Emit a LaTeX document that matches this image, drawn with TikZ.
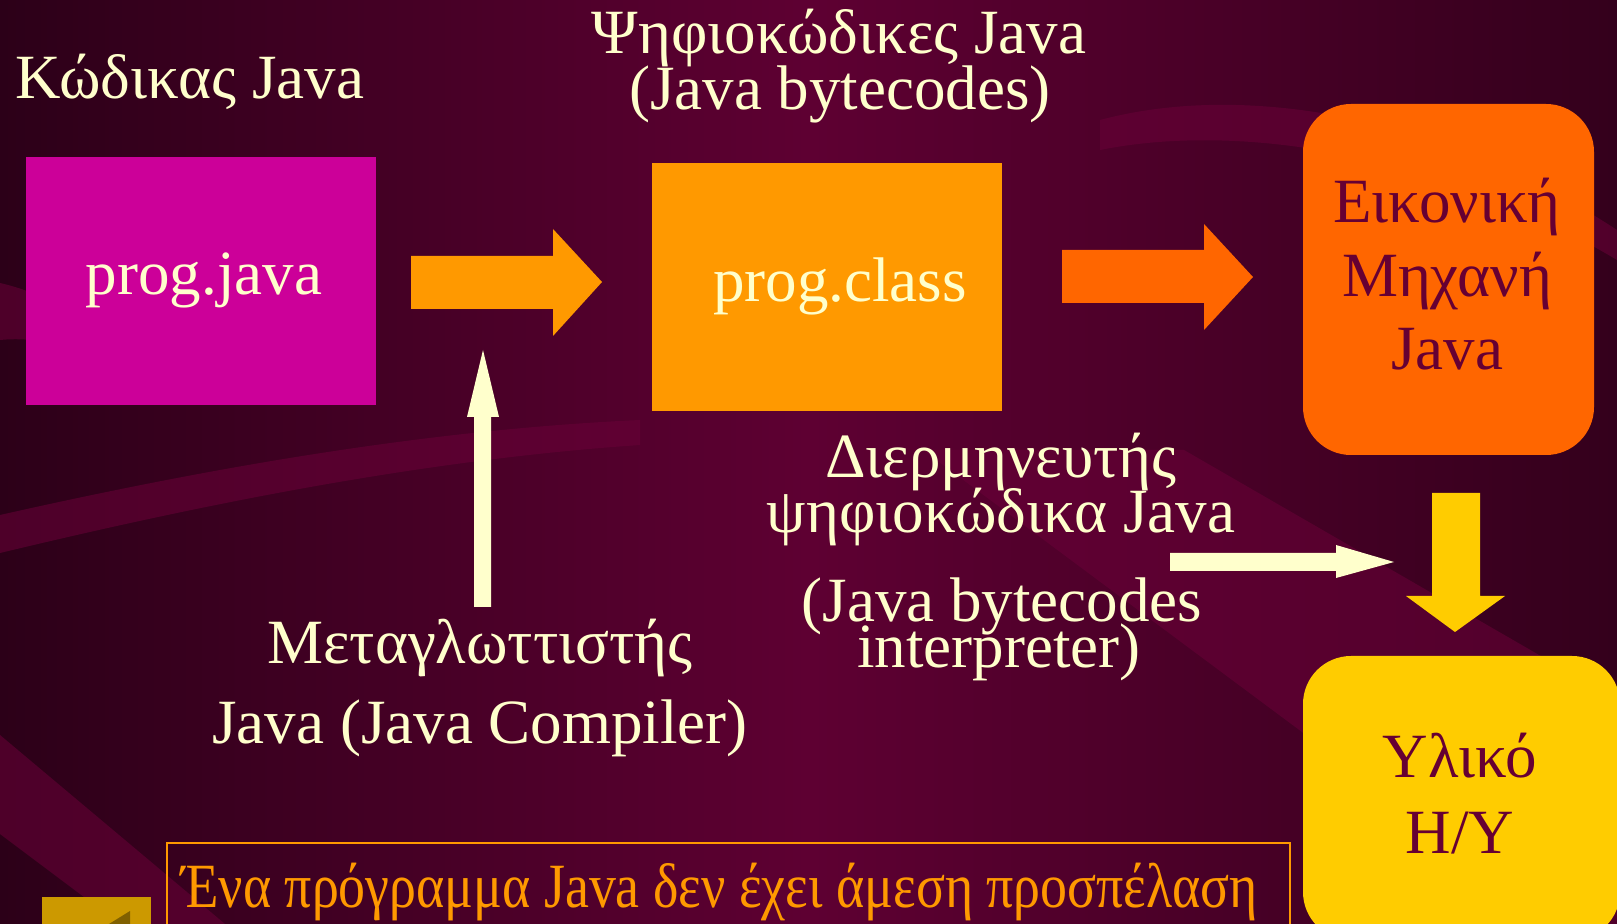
\documentclass[tikz,border=0pt]{standalone}
\usepackage{graphicx}
\usepackage{fontspec}
\setmainfont{Liberation Serif}
\definecolor{cream}{HTML}{FFFFCC}
\definecolor{darkm}{HTML}{660033}
\definecolor{magbox}{HTML}{CC0099}
\definecolor{orange1}{HTML}{FF9900}
\definecolor{orange2}{HTML}{FF6600}
\definecolor{yellow1}{HTML}{FFCC00}
\definecolor{gold1}{HTML}{CC9900}
\definecolor{gold2}{HTML}{806000}
\definecolor{bgl}{HTML}{2C0018}
\definecolor{bgm}{HTML}{5E0032}
\definecolor{bgr}{HTML}{34001C}
\definecolor{band}{HTML}{6A0038}
\begin{document}
\begin{tikzpicture}[x=0.5pt,y=-0.5pt,
  txt/.style={text=cream, font=\fontsize{31.5}{36}\selectfont, anchor=base, inner sep=0pt},
  dtxt/.style={txt, text=darkm},
  otxt/.style={txt, text=orange1},
  sqbox/.style={inner sep=0pt, draw=none},
  bandfill/.style={fill=band, opacity=0.55, draw=none}]
\useasboundingbox (0,0) rectangle (1617,924);
\clip (0,0) rectangle (1617,924);
% background
\shade[left color=bgl, right color=bgr, middle color=bgm] (0,0) rectangle (1617,924);
\fill[bandfill] (0,515) .. controls (200,470) and (420,430) .. (640,420) -- (640,445) .. controls (420,460) and (200,505) .. (0,553) -- cycle;
\fill[bandfill] (0,283) .. controls (30,290) and (50,300) .. (60,310) -- (60,345) .. controls (40,340) and (20,338) .. (0,340) -- cycle;
\fill[bandfill] (0,735) -- (225,924) -- (120,924) -- (0,834) -- cycle;
\fill[bandfill] (923,450) -- (1184,450) -- (1617,700) -- (1617,924) -- (1560,924) -- cycle;
\fill[bandfill] (1100,120) .. controls (1250,80) and (1450,120) .. (1617,230) -- (1617,260) .. controls (1450,160) and (1250,120) .. (1100,150) -- cycle;
% boxes
\node[sqbox, fill=magbox, minimum width=175pt, minimum height=124pt] (pj) at (201,281) {};
\node[sqbox, fill=orange1, minimum width=175pt, minimum height=124pt] (pc) at (827,287) {};
\node[sqbox, fill=orange2, minimum width=145.5pt, minimum height=175.5pt, rounded corners=24pt] (jvm) at (1448.5,279.5) {};
\node[sqbox, fill=yellow1, minimum width=158.5pt, minimum height=142pt, rounded corners=24pt] (hw) at (1461.5,798) {};
% block arrows
\fill[orange1] (411,256) -- (553,256) -- (553,229) -- (602,282) -- (553,336) -- (553,309) -- (411,309) -- cycle;
\fill[orange2] (1062,250) -- (1204,250) -- (1204,224) -- (1253,277) -- (1204,330) -- (1204,303) -- (1062,303) -- cycle;
\fill[cream] (474,607) -- (474,417) -- (467,417) -- (483,350) -- (499,417) -- (491,417) -- (491,607) -- cycle;
\fill[cream] (1170,553) -- (1336,553) -- (1336,545) -- (1394,562) -- (1336,578) -- (1336,571) -- (1170,571) -- cycle;
\fill[yellow1] (1432,493) -- (1480,493) -- (1480,596) -- (1505,596) -- (1455,632) -- (1406,596) -- (1432,596) -- cycle;
% texts
\node[txt] (t1) at (190,99) {Κώδικας Java};
\node[txt] (t2) at (204,295) {prog.java};
\node[txt] (t3) at (839,54) {Ψηφιοκώδικες Java};
\node[txt] (t4) at (840,110) {(Java bytecodes)};
\node[txt] (t5) at (840,302) {prog.class};
\node[dtxt] (t6) at (1447,223) {Εικονική};
\node[dtxt] (t7) at (1447,297) {Μηχανή};
\node[dtxt] (t8) at (1447,370) {Java};
\node[txt] (t9) at (1001,478) {Διερμηνευτής};
\node[txt] (t10) at (1001,533) {ψηφιοκώδικα Java};
\node[txt] (t11) at (1002,622) {(Java bytecodes};
\node[txt] (t12) at (999,668) {interpreter)};
\node[txt] (t13) at (480,663) {Μεταγλωττιστής};
\node[txt] (t14) at (480,743) {Java (Java Compiler)};
\node[dtxt] (t15) at (1460,777) {Υλικό};
\node[dtxt] (t16) at (1460,853) {Η/Υ};
% bottom note
\draw[orange1, line width=1pt] (167,960) |- (1290,843) -- (1290,960);
\node[otxt, anchor=base west] (t17) at (181,907) {\scalebox{0.855}[1]{Ένα πρόγραμμα Java δεν έχει άμεση προσπέλαση}};
% back button
\fill[gold1] (42,897) rectangle (151,940);
\fill[gold2] (130,911) -- (130,960) -- (75,945) -- cycle;
\end{tikzpicture}
\end{document}
